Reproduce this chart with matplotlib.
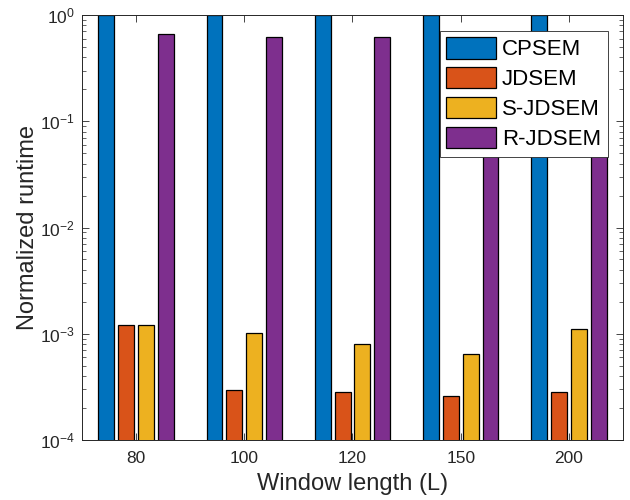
import numpy as np
import matplotlib
matplotlib.use("Agg")
import matplotlib.pyplot as plt
from matplotlib.ticker import LogLocator, NullFormatter

plt.rcParams['font.family'] = ['Liberation Sans', 'DejaVu Sans']

# Window lengths and normalized runtimes (relative to CPSEM)
window_lengths = ['80', '100', '120', '150', '200']
series_names = ['CPSEM', 'JDSEM', 'S-JDSEM', 'R-JDSEM']
cpsem = [1.0, 1.0, 1.0, 1.0, 1.0]
jdsem = [1.22e-3, 2.92e-4, 2.82e-4, 2.58e-4, 2.84e-4]
s_jdsem = [1.22e-3, 1.01e-3, 8.0e-4, 6.38e-4, 1.11e-3]
r_jdsem = [0.662, 0.62, 0.625, 0.62, 0.62]

colors = ['#0072BD', '#D95319', '#EDB120', '#7E2F8E']
axis_color = '#262626'

fig = plt.figure(figsize=(6.3, 5.0), dpi=100)
ax = fig.add_axes([0.130, 0.120, 0.859, 0.850])

x = np.arange(1, len(window_lengths) + 1)
step = 0.1835
width = 0.147
all_series = [cpsem, jdsem, s_jdsem, r_jdsem]
for i, (vals, name, col) in enumerate(zip(all_series, series_names, colors)):
    offset = (i - 1.5) * step
    ax.bar(x + offset, vals, width=width, bottom=1e-6, color=col,
           edgecolor='black', linewidth=0.9, label=name, zorder=2)

ax.set_yscale('log')
ax.set_ylim(1e-4, 1)
ax.set_xlim(0.5, 5.5)
ax.set_xticks(x)
ax.set_xticklabels(window_lengths)
ax.set_yticks([1e-4, 1e-3, 1e-2, 1e-1, 1])
ax.yaxis.set_minor_locator(LogLocator(base=10, subs=np.arange(2, 10), numticks=20))
ax.yaxis.set_minor_formatter(NullFormatter())

ax.tick_params(axis='both', which='both', direction='in', top=True, right=True,
               colors=axis_color, labelsize=12.5)
ax.tick_params(axis='both', which='major', length=5, width=0.6)
ax.tick_params(axis='y', which='minor', length=3, width=0.5)
ax.tick_params(axis='x', which='major', pad=8)
ax.tick_params(axis='y', which='major', pad=5)
for sp in ax.spines.values():
    sp.set_color(axis_color)
    sp.set_linewidth(0.7)
    sp.set_zorder(3)

ax.set_xlabel('Window length (L)', fontsize=17, color=axis_color, labelpad=5)
ax.set_ylabel('Normalized runtime', fontsize=17, color=axis_color, labelpad=1)

leg = ax.legend(loc='upper right', fontsize=16, frameon=True, fancybox=False,
                framealpha=1, edgecolor=axis_color, handlelength=2.25,
                handleheight=1.1, handletextpad=0.25, labelspacing=0.3,
                borderpad=0.3, borderaxespad=0.7)
leg.get_frame().set_linewidth(0.6)

fig.savefig('out.png', dpi=100)
